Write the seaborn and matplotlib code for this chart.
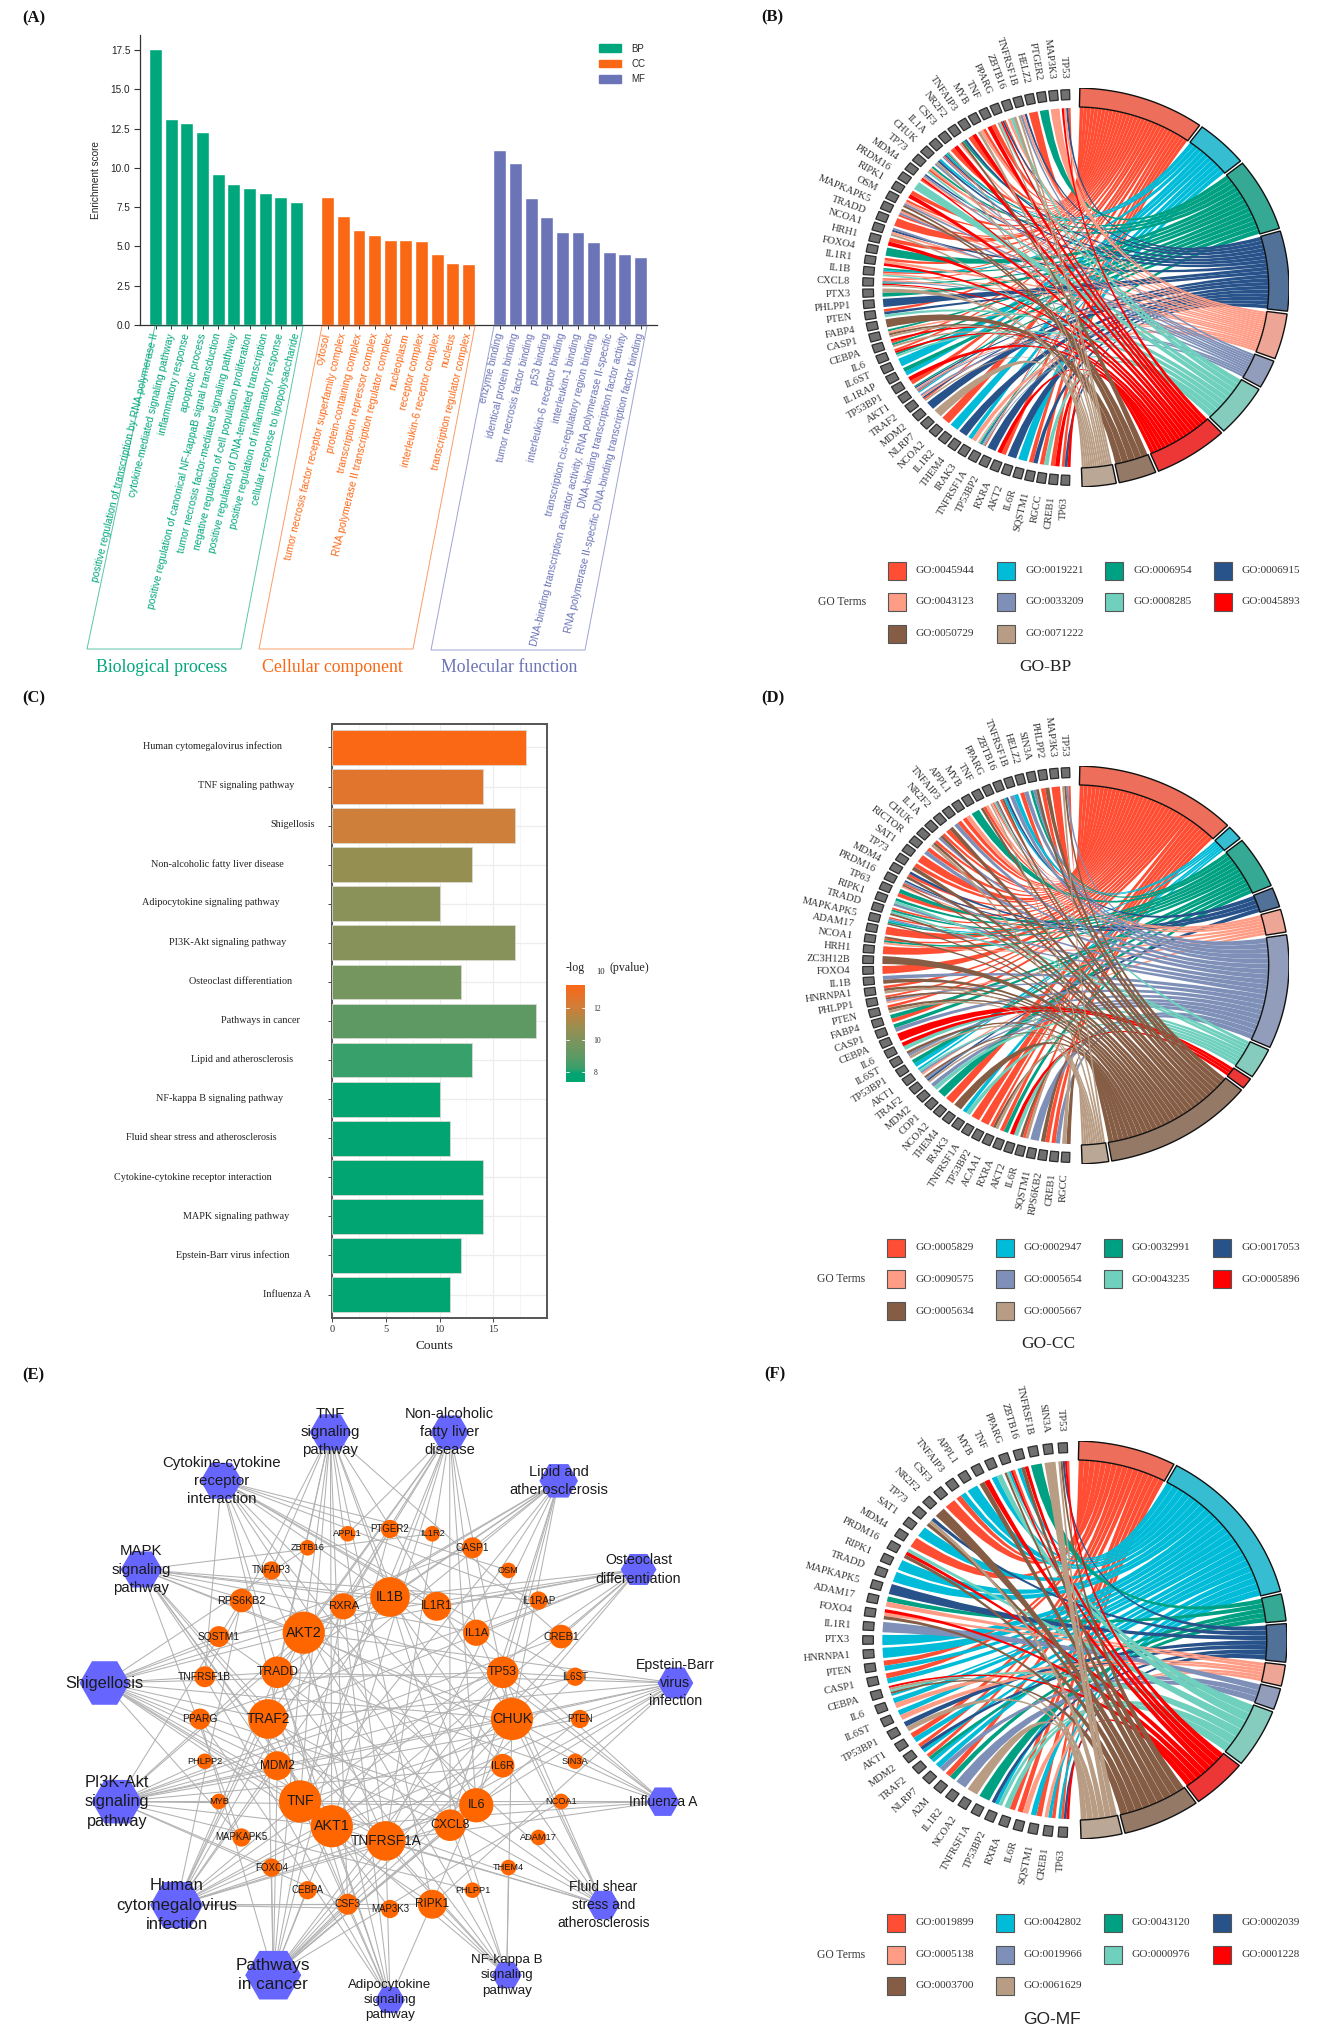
import numpy as np
import pandas as pd
import matplotlib
matplotlib.use("Agg")
import matplotlib.pyplot as plt
import seaborn as sns
from matplotlib.path import Path
from matplotlib.patches import PathPatch, Polygon, Rectangle, Patch
from matplotlib.colors import LinearSegmentedColormap, Normalize, to_rgb
from matplotlib.cm import ScalarMappable

W, H = 1323, 2036
SERIF = "Liberation Serif"
SANS = "Liberation Sans"

# ---------- Panel A data ----------
bp_terms = ["positive regulation of transcription by RNA polymerase II", "cytokine-mediated signaling pathway",
            "inflammatory response", "apoptotic process",
            "positive regulation of canonical NF-kappaB signal transduction",
            "tumor necrosis factor-mediated signaling pathway", "negative regulation of cell population proliferation",
            "positive regulation of DNA-templated transcription", "positive regulation of inflammatory response",
            "cellular response to lipopolysaccharide"]
bp_scores = [17.6, 13.1, 12.85, 12.3, 9.6, 9.0, 8.7, 8.4, 8.15, 7.85]
cc_terms = ["cytosol", "tumor necrosis factor receptor superfamily complex", "protein-containing complex",
            "transcription repressor complex", "RNA polymerase II transcription regulator complex", "nucleoplasm",
            "receptor complex", "interleukin-6 receptor complex", "nucleus", "transcription regulator complex"]
cc_scores = [8.15, 6.95, 6.05, 5.75, 5.42, 5.4, 5.35, 4.55, 3.95, 3.9]
mf_terms = ["enzyme binding", "identical protein binding", "tumor necrosis factor binding", "p53 binding",
            "interleukin-6 receptor binding", "interleukin-1 binding", "transcription cis-regulatory region binding",
            "DNA-binding transcription activator activity, RNA polymerase II-specific",
            "DNA-binding transcription factor activity",
            "RNA polymerase II-specific DNA-binding transcription factor binding"]
mf_scores = [11.15, 10.3, 8.1, 6.85, 5.9, 5.9, 5.3, 4.65, 4.5, 4.3]

# ---------- Panel C data ----------
kegg_paths = ["Human cytomegalovirus infection", "TNF signaling pathway", "Shigellosis",
              "Non-alcoholic fatty liver disease", "Adipocytokine signaling pathway", "PI3K-Akt signaling pathway",
              "Osteoclast differentiation", "Pathways in cancer", "Lipid and atherosclerosis",
              "NF-kappa B signaling pathway", "Fluid shear stress and atherosclerosis",
              "Cytokine-cytokine receptor interaction", "MAPK signaling pathway", "Epstein-Barr virus infection",
              "Influenza A"]
kegg_counts = [18, 14, 17, 13, 10, 17, 12, 19, 13, 10, 11, 14, 14, 12, 11]
kegg_logp = [13.45, 12.6, 12.0, 10.7, 10.3, 10.2, 9.7, 9.0, 8.2, 7.9, 7.7, 7.6, 7.55, 7.5, 7.4]

# ---------- Chord data: one letter per GO term (a..j) for each gene ----------
bp_go = ["GO:0045944", "GO:0019221", "GO:0006954", "GO:0006915", "GO:0043123", "GO:0033209", "GO:0008285",
         "GO:0045893", "GO:0050729", "GO:0071222"]
bp_span = [35, 15, 22, 24, 14, 9, 16, 21, 11, 10]
bp_genes = ["TP53", "MAP3K3", "PTGER2", "HELZ2", "TNFRSF1B", "ZBTB16", "PPARG", "TNF", "MYB", "TNFAIP3", "NR2F2", "CSF3",
            "IL1A", "CHUK", "TP73", "MDM4", "PRDM16", "RIPK1", "OSM", "MAPKAPK5", "TRADD", "NCOA1", "HRH1", "FOXO4",
            "IL1R1", "IL1B", "CXCL8", "PTX3", "PHLPP1", "PTEN", "FABP4", "CASP1", "CEBPA", "IL6", "IL6ST", "IL1RAP",
            "TP53BP1", "AKT1", "TRAF2", "MDM2", "NLRP7", "NCOA2", "IL1R2", "THEM4", "IRAK3", "TNFRSF1A", "TP53BP2",
            "RXRA", "AKT2", "IL6R", "SQSTM1", "RGCC", "CREB1", "TP63"]
bp_links = ["adeh", "e", "c", "a", "defj", "jge", "adhgj", "ah", "aej", "ha", "dcie", "ha", "jcbdaf", "bdjf", "ceag",
            "dfeha", "g", "ah", "aefi", "iefa", "a", "fdej", "ah", "c", "aeh", "cbaeg", "aefchj", "jc", "d", "adg",
            "i", "ceij", "hacj", "ahcg", "b", "cb", "ha", "cdefab", "fedaj", "d", "j", "a", "b", "d", "be",
            "egcdbjfa", "d", "ha", "d", "b", "ad", "ag", "ah", "adh"]

cc_go = ["GO:0005829", "GO:0002947", "GO:0032991", "GO:0017053", "GO:0090575", "GO:0005654", "GO:0043235",
         "GO:0005896", "GO:0005634", "GO:0005667"]
cc_span = [45, 5, 16, 6.5, 7.5, 34, 9.7, 4, 42, 8]
cc_genes = ["TP53", "MAP3K3", "PHLPP2", "SIN3A", "HELZ2", "TNFRSF1B", "ZBTB16", "PPARG", "TNF", "MYB", "APPL1",
            "TNFAIP3", "NR2F2", "IL1A", "CHUK", "RICTOR", "SAT1", "TP73", "MDM4", "PRDM16", "TP63", "RIPK1", "TRADD",
            "MAPKAPK5", "ADAM17", "NCOA1", "HRH1", "ZC3H12B", "FOXO4", "IL1B", "HNRNPA1", "PHLPP1", "PTEN", "FABP4",
            "CASP1", "CEBPA", "IL6", "IL6ST", "TP53BP1", "AKT1", "TRAF2", "MDM2", "COP1", "NCOA2", "THEM4", "IRAK3",
            "TNFRSF1A", "TP53BP2", "ACAA1", "RXRA", "AKT2", "IL6R", "SQSTM1", "RPS6KB2", "CREB1", "RGCC"]
cc_links = ["afij", "a", "ia", "ifc", "fa", "bf", "dbia", "ifgaej", "eai", "c", "ea", "af", "ia", "aif", "aij", "af",
            "a", "ai", "dai", "dfaie", "ca", "cgf", "acgi", "afbci", "a", "iace", "a", "i", "a", "fi", "aij", "aife",
            "aij", "ca", "cf", "h", "hg", "ifj", "cb", "bgfe", "ifdj", "fg", "c", "a", "i", "bg", "a", "a", "aij",
            "ac", "hg", "iaj", "f", "ia", "af", "ji"]

mf_go = ["GO:0019899", "GO:0042802", "GO:0043120", "GO:0002039", "GO:0005138", "GO:0019966", "GO:0000976",
         "GO:0001228", "GO:0003700", "GO:0061629"]
mf_span = [27.6, 48, 8.7, 12, 7, 7, 18, 16, 22, 12]
mf_genes = ["TP53", "SIN3A", "TNFRSF1B", "ZBTB16", "PPARG", "TNF", "MYB", "APPL1", "TNFAIP3", "CSF3", "NR2F2", "TP73",
            "SAT1", "MDM4", "PRDM16", "RIPK1", "TRADD", "MAPKAPK5", "ADAM17", "FOXO4", "IL1R1", "PTX3", "HNRNPA1",
            "PTEN", "CASP1", "CEBPA", "IL6", "IL6ST", "TP53BP1", "AKT1", "MDM2", "TRAF2", "NLRP7", "A2M", "IL1R2",
            "NCOA2", "TNFRSF1A", "TP53BP2", "RXRA", "IL6R", "SQSTM1", "CREB1", "TP63"]
mf_links = ["ahdij", "j", "c", "hib", "ahbgi", "gb", "hi", "b", "ba", "a", "i", "dji", "b", "a", "ghi", "b", "b", "d",
            "ce", "hei", "f", "b", "b", "ab", "ab", "hjgib", "be", "be", "dj", "ab", "adb", "acb", "bf", "ac", "f", "j",
            "c", "dbg", "ga", "ae", "ba", "eba", "badh"]

# ---------- Panel E data ----------
outer_genes = ["PTGER2", "IL1R2", "CASP1", "OSM", "IL1RAP", "CREB1", "IL6ST", "PTEN", "SIN3A", "NCOA1", "ADAM17", "THEM4",
               "PHLPP1", "RIPK1", "MAP3K3", "CSF3", "CEBPA", "FOXO4", "MAPKAPK5", "MYB", "PHLPP2", "PPARG", "TNFRSF1B",
               "SQSTM1", "RPS6KB2", "TNFAIP3", "ZBTB16", "APPL1"]
outer_degree = [2, 1, 3, 1, 2, 4, 2, 2, 1, 1, 1, 1, 1, 6, 2, 3, 2, 2, 2, 1, 1, 3, 3, 3, 4, 2, 1, 1]
inner_genes = ["IL1B", "IL1R1", "IL1A", "TP53", "CHUK", "IL6R", "IL6", "CXCL8", "TNFRSF1A", "AKT1", "TNF", "MDM2", "TRAF2",
               "TRADD", "AKT2", "RXRA"]
inner_degree = [10, 6, 5, 7, 11, 4, 8, 7, 10, 11, 11, 6, 10, 7, 11, 5]
net_paths = ["Non-alcoholic\nfatty liver\ndisease", "Lipid and\natherosclerosis", "Osteoclast\ndifferentiation",
             "Epstein-Barr\nvirus\ninfection", "Influenza A", "Fluid shear\nstress and\natherosclerosis",
             "NF-kappa B\nsignaling\npathway", "Adipocytokine\nsignaling\npathway", "Pathways\nin cancer",
             "Human\ncytomegalovirus\ninfection", "PI3K-Akt\nsignaling\npathway", "Shigellosis",
             "MAPK\nsignaling\npathway", "Cytokine-cytokine\nreceptor\ninteraction", "TNF\nsignaling\npathway"]
net_counts = [13, 13, 12, 12, 11, 11, 10, 10, 19, 18, 17, 17, 14, 14, 14]
net_members = [
    "TNF TNFRSF1A TRAF2 TRADD CHUK AKT1 AKT2 IL1B IL1A IL6 CXCL8 RXRA APPL1",
    "TNF TNFRSF1A TRAF2 TRADD CHUK AKT1 AKT2 TP53 IL1B IL6 CXCL8 RXRA CASP1",
    "TNF TNFRSF1A TRAF2 CHUK AKT1 AKT2 IL1A IL1B IL1R1 PPARG CREB1 SQSTM1",
    "TNF TNFRSF1A TRAF2 TRADD CHUK AKT1 AKT2 TP53 MDM2 IL6 RIPK1 SIN3A",
    "TNF TNFRSF1A TRADD CHUK AKT1 AKT2 IL1A IL1B IL6 NCOA1 TP53",
    "TNF TNFRSF1A TRAF2 CHUK AKT1 AKT2 TP53 ADAM17 IL1A IL1B SQSTM1",
    "TNF TNFRSF1A TRAF2 TRADD CHUK IL1B THEM4 CXCL8 RIPK1 TNFAIP3",
    "TNF TNFRSF1A TNFRSF1B TRAF2 TRADD CHUK AKT1 AKT2 RXRA PPARG",
    "AKT1 AKT2 TP53 MDM2 IL6 IL6R IL6ST CXCL8 CHUK TRAF2 RXRA PPARG PTEN FOXO4 CEBPA NCOA1 CSF3 PTGER2 TNFRSF1A",
    "TNF TNFRSF1A TRAF2 TRADD CHUK AKT1 AKT2 TP53 MDM2 IL1B IL6 IL6R RPS6KB2 CXCL8 RIPK1 PTGER2 MAP3K3 CSF3",
    "AKT1 AKT2 TP53 MDM2 IL6 IL6R IL6ST CHUK PTEN CREB1 PHLPP1 PHLPP2 RXRA FOXO4 CSF3 MYB RPS6KB2",
    "TNF TNFRSF1A TRAF2 TRADD CHUK AKT1 AKT2 TP53 MDM2 IL1B CXCL8 IL6 RIPK1 CASP1 MAPKAPK5 SQSTM1 ZBTB16",
    "TNF TNFRSF1A TRAF2 CHUK AKT1 AKT2 IL1A IL1B IL1R1 IL1R2 IL1RAP TP53 MAP3K3 MAPKAPK5",
    "TNF TNFRSF1A TNFRSF1B IL1A IL1B IL1R1 IL1R2 IL1RAP IL6 IL6R IL6ST CXCL8 OSM CSF3",
    "TNF TNFRSF1A TNFRSF1B TRAF2 TRADD CHUK AKT1 AKT2 IL1B IL6 RIPK1 CREB1 TNFAIP3 CSF3",
]

# ---------- Style ----------
GO_COLORS = ["#FF4E33", "#00BCD8", "#00A083", "#27528A", "#FF9C85", "#7F90B8", "#6FD0BE", "#FF0000", "#855D45", "#B89D84"]
GREEN, ORANGE, PURPLE = "#00A77C", "#FA6816", "#6A74B6"

sns.set_theme(style="white")
plt.rcParams["font.family"] = [SANS, "DejaVu Sans"]

fig = plt.figure(figsize=(W / 100, H / 100), dpi=100, facecolor="white")


def axpx(l, t, r, b, **kw):
    return fig.add_axes([l / W, 1 - b / H, (r - l) / W, (b - t) / H], **kw)


ov = axpx(0, 0, W, H, zorder=20)
ov.set_xlim(0, W)
ov.set_ylim(H, 0)
ov.axis("off")
ov.patch.set_alpha(0)

for lab, x, y in [("(A)", 22, 18), ("(B)", 761, 17), ("(C)", 22, 698), ("(D)", 761, 698), ("(E)", 22, 1375), ("(F)", 764, 1374)]:
    ov.text(x, y, lab, family=SERIF, weight="bold", fontsize=12, ha="left", va="center", color="#111")

# ---------- Panel A ----------
ax = axpx(140, 35, 657, 325)
groups = [("BP", bp_terms, bp_scores, GREEN), ("CC", cc_terms, cc_scores, ORANGE), ("MF", mf_terms, mf_scores, PURPLE)]
rows = []
for g, ts, vs, _ in groups:
    rows += [dict(term=t, score=v, group=g) for t, v in zip(ts, vs)]
dfa = pd.DataFrame(rows)
slots = bp_terms + [""] + cc_terms + [" "] + mf_terms
sns.barplot(data=dfa, x="term", y="score", hue="group", order=slots, dodge=False, width=0.83,
            palette={g: c for g, _, _, c in groups}, legend=False, ax=ax, saturation=1)
ax.set_xlim(-1, 32.05)
ax.set_ylim(0, 18.46)
ax.set_yticks(np.arange(0, 18, 2.5))
ax.tick_params(axis="y", labelsize=7.2, length=4, width=0.8, color="#333", labelcolor="#222", pad=3, left=True)
tick_pos = [i for i, s in enumerate(slots) if s.strip()]
ax.set_xticks(tick_pos)
ax.set_xticklabels([slots[i] for i in tick_pos], rotation=76.4, ha="right", va="center", rotation_mode="anchor", fontsize=7.4)
ax.tick_params(axis="x", length=3, width=0.7, color="#333", pad=3, bottom=True)
colmap = {t: c for _, ts, _, c in groups for t in ts}
for lb in ax.get_xticklabels():
    lb.set_color(colmap[lb.get_text()])
ax.set_xlabel("")
ax.set_ylabel("Enrichment score", fontsize=7.2, color="#222", labelpad=7)
sns.despine(ax=ax)
for s in ("left", "bottom"):
    ax.spines[s].set_color("#333")
    ax.spines[s].set_linewidth(0.9)
ax.legend(handles=[Patch(color=c, label=g) for g, _, _, c in groups], frameon=False, fontsize=7,
          handlelength=2.3, handleheight=0.8, labelspacing=0.55, handletextpad=1.0, borderpad=0, borderaxespad=0,
          loc="upper left", bbox_to_anchor=(599 / W, 1 - 43.5 / H), bbox_transform=fig.transFigure)
for (x0, x1, y0, x2, x3, y1, c, name, tx) in [
    (87, 241, 649, 303, 155, 326, GREEN, "Biological process", 162),
    (259, 413, 649, 475, 322, 326, ORANGE, "Cellular component", 332),
    (431, 585, 650, 647, 494, 326, PURPLE, "Molecular function", 509),
]:
    ov.add_patch(Polygon([(x0, y0), (x1, y0), (x2, y1), (x3, y1)], closed=True, fill=False, ec=c, lw=0.7, alpha=0.65))
    ov.text(tx, 668, name, family=SERIF, fontsize=12.8, color=c, ha="center", va="center")

# ---------- Panel C ----------
ax = axpx(332, 724, 547, 1318)
stops = [(0.0, "#00A572"), (0.09, "#03A470"), (0.138, "#38A06B"), (0.27, "#5F9963"), (0.384, "#76965F"),
         (0.483, "#8A9159"), (0.548, "#968F52"), (0.762, "#CD7F39"), (0.86, "#E0752E"), (1.0, "#FA6816")]
cmap = LinearSegmentedColormap.from_list("gy", stops)
norm = Normalize(7.36, 13.45)
dfc = pd.DataFrame(dict(path=kegg_paths, count=kegg_counts, logp=kegg_logp))
sns.barplot(data=dfc, y="path", x="count", hue="path", palette={p: cmap(norm(v)) for p, v in zip(kegg_paths, kegg_logp)},
            legend=False, width=0.89, edgecolor="#d9d9d0", linewidth=0.6, saturation=1, ax=ax, zorder=3)
ax.set_xlim(0, 20)
ax.set_ylim(14.6, -0.6)
ax.set_xticks([0, 5, 10, 15])
ax.set_xticks([2.5, 7.5, 12.5, 17.5], minor=True)
ax.grid(True, which="major", color="#EDEDED", lw=0.9)
ax.grid(True, which="minor", axis="x", color="#F4F4F4", lw=0.6)
ax.set_axisbelow(True)
ax.tick_params(axis="x", which="major", length=3, width=0.7, color="#444", labelsize=7.5, labelcolor="#333", pad=2, bottom=True)
ax.tick_params(axis="x", which="minor", length=0)
ax.tick_params(axis="y", length=3, width=0.7, color="#444", left=True, labelleft=False)
for s in ax.spines.values():
    s.set_color("#555")
    s.set_linewidth(1.4)
for lb in ax.get_xticklabels():
    lb.set_family(SERIF)
ax.set_ylabel("")
ax.set_xlabel("")
label_end_gap = [50, 38, 17, 48, 52, 46, 40, 32, 39, 49, 55, 60, 43, 43, 21]
for i, (p, g) in enumerate(zip(kegg_paths, label_end_gap)):
    ov.annotate(p, xy=(332 - g, 746.3 + i * 39.16), family=SERIF, fontsize=7.3, color="#222", ha="right", va="center")
ov.text(434.5, 1346, "Counts", family=SERIF, fontsize=9.6, color="#222", ha="center", va="center")
cax = axpx(566, 985, 585, 1082)
cb = fig.colorbar(ScalarMappable(norm=norm, cmap=cmap), cax=cax)
cb.outline.set_visible(False)
cb.set_ticks([8, 10, 12])
cax.tick_params(length=0, labelsize=5.5, pad=6, labelcolor="#333")
for lb in cax.get_yticklabels():
    lb.set_family(SERIF)
for v in (8, 10, 12):
    cax.plot([0, 0.18], [v, v], color="white", lw=0.6, transform=cax.get_yaxis_transform())
    cax.plot([0.82, 1], [v, v], color="white", lw=0.6, transform=cax.get_yaxis_transform())
ov.text(566, 968, "-log", family=SERIF, fontsize=8.6, color="#222", ha="left", va="center")
ov.text(596, 972, "10", family=SERIF, fontsize=6.2, color="#222", ha="left", va="center")
ov.text(610, 968, "(pvalue)", family=SERIF, fontsize=8.6, color="#222", ha="left", va="center")


# ---------- Chord panels ----------
def pol(theta, r):
    t = np.deg2rad(theta)
    return np.column_stack([r * np.sin(t), r * np.cos(t)])


def ring_seg(ax, a0, a1, r0, r1, **kw):
    th = np.linspace(a0, a1, max(int(abs(a1 - a0)) + 2, 4))
    pts = np.vstack([pol(th, r1), pol(th[::-1], r0)])
    ax.add_patch(Polygon(pts, closed=True, **kw))


def chord(cx, cy, rx, ry, go, span, genes, links, leg_x, leg_y, title, title_xy, title_fam):
    ax = axpx(cx - rx, cy - ry, cx + rx, cy + ry)
    ax.set_xlim(-1, 1)
    ax.set_ylim(-1, 1)
    ax.axis("off")
    scale = 177.6 / sum(span)
    edges = np.concatenate([[0.9], 0.9 + np.cumsum(span) * scale])
    letters = "abcdefghij"
    n = len(genes)
    assert n == len(links), (title, n, len(links))
    step = 178.0 / n
    rT, rG = 0.905, 0.90
    users = {l: [i for i, s in enumerate(links) if l in s] for l in letters}
    ribbons = []
    for k, l in enumerate(letters):
        a0, a1 = edges[k] + 0.5, edges[k + 1] - 0.5
        m = max(len(users[l]), 1)
        w = (a1 - a0) / m
        for q, g in enumerate(users[l]):
            ribbons.append((k, g, a0 + q * w + 0.01 * w, a0 + (q + 1) * w - 0.01 * w))
    for k, g, a, b in ribbons:
        s = links[g]
        top = 360.0 - 1.0 - g * step
        pad = step * 0.1
        w = (step - 2 * pad) / len(s)
        pos = s.index(letters[k])
        g_hi = top - pad - pos * w
        g_lo = g_hi - w
        ta = np.linspace(a, b, 6)
        ga = np.linspace(g_lo, g_hi, 4)
        tpts = pol(ta, rT)
        gpts = pol(ga, rG)
        verts = [tpts[0]] + list(tpts[1:]) + [(0, 0), gpts[0]] + list(gpts[1:]) + [(0, 0), tpts[0], tpts[0]]
        codes = ([Path.MOVETO] + [Path.LINETO] * (len(tpts) - 1) + [Path.CURVE3, Path.CURVE3]
                 + [Path.LINETO] * (len(gpts) - 1) + [Path.CURVE3, Path.CURVE3, Path.CLOSEPOLY])
        ax.add_patch(PathPatch(Path(np.array(verts, float), codes), fc=GO_COLORS[k], ec="none", lw=0, zorder=2 + k * 0.1))
    for k in range(len(go)):
        c = np.array(to_rgb(GO_COLORS[k])) * 0.72 + 0.28 * 0.75
        ring_seg(ax, edges[k] + 0.4, edges[k + 1] - 0.4, 0.905, 1.0, fc=c, ec="#111", lw=1.0, zorder=5)
    for i, name in enumerate(genes):
        mid = 360.0 - 1.0 - (i + 0.5) * step
        hw = min(step * 0.36, 1.25)
        ring_seg(ax, mid - hw, mid + hw, 0.942, 0.992, fc="#707070", ec="#2c2c2c", lw=0.9, zorder=5)
        p = pol(np.array([mid]), 1.05)[0]
        t = np.deg2rad(mid)
        rot = np.degrees(np.arctan2(np.cos(t) * ry, np.sin(t) * rx)) + 180
        ax.text(p[0], p[1], name, family=SERIF, fontsize=7.6, color="#333", rotation=rot, rotation_mode="anchor",
                ha="right", va="center", clip_on=False)
    for i, g in enumerate(go):
        col, row = i % 4, i // 4
        x = leg_x[col]
        y = leg_y[row]
        ov.add_patch(Rectangle((x, y - 9), 18, 18, fc=GO_COLORS[i], ec="#555", lw=0.8))
        ov.text(x + 28, y, g, family=SERIF, fontsize=8.1, color="#333", ha="left", va="center")
    ov.text(leg_x[0] - 70, leg_y[1], "GO Terms", family=SERIF, fontsize=8.3, color="#333", ha="left", va="center")
    ov.text(title_xy[0], title_xy[1], title, family=title_fam, fontsize=12.5, color="#222", ha="center", va="center")


LEGX = [888, 997, 1105, 1214]
chord(1075, 287.5, 214, 199.5, bp_go, bp_span, bp_genes, bp_links, LEGX, [570.5, 602, 634], "GO-BP", (1045, 667), SERIF)
chord(1075, 965, 214, 199, cc_go, cc_span, cc_genes, cc_links, [887, 996, 1104, 1213], [1247.7, 1279, 1311], "GO-CC", (1048, 1344), SERIF)
chord(1074, 1640, 213, 199, mf_go, mf_span, mf_genes, mf_links, [887, 996, 1104, 1213], [1922.6, 1954.5, 1986], "GO-MF", (1052, 2019), SANS)

# ---------- Panel E ----------
CX, CY = 390, 1719
net = axpx(0, 1350, 720, 2036, zorder=3)
net.set_xlim(0, 720)
net.set_ylim(2036, 1350)
net.axis("off")
net.patch.set_alpha(0)


def ring(n, R, start, cx=CX, cy=CY, nudge=None):
    th = start + np.arange(n) * 360.0 / n
    if nudge is not None:
        th = th + np.asarray(nudge)
    th = np.deg2rad(th)
    return cx + R * np.sin(th), cy - R * np.cos(th)


# small layout offsets (degrees) of the hand-moved central nodes
inner_nudge = [0, 0, 0, 0, 0, 0, 0, -7, 2, 6, 2.5, 0, 0, 0, 0, 0]
ox, oy = ring(len(outer_genes), 190, 0)
ix, iy = ring(len(inner_genes), 122, 0, nudge=inner_nudge)
px, py = ring(len(net_paths), 287, 12, CX, 1713)
pos = {g: (x, y) for g, x, y in zip(outer_genes + inner_genes, np.r_[ox, ix], np.r_[oy, iy])}
for i, mem in enumerate(net_members):
    for g in mem.split():
        x, y = pos[g]
        net.plot([px[i], x], [py[i], y], color="#B2B2B2", lw=0.75, zorder=1, solid_capstyle="round")

deg = np.array(outer_degree + inner_degree)
r_px = (17 + 2.9 * (deg - 1)) / 2.178
dfg = pd.DataFrame(dict(x=np.r_[ox, ix], y=np.r_[oy, iy], s=(2 * r_px * 0.72) ** 2, gene=outer_genes + inner_genes, deg=deg))
sns.scatterplot(data=dfg, x="x", y="y", size="s", sizes={v: v for v in dfg.s.unique()}, color="#FF6600", linewidth=0,
                legend=False, ax=net, zorder=3)
dfp = pd.DataFrame(dict(x=px, y=py, n=net_counts))
dfp["s"] = ((30 + (dfp.n - 10) * 2.9) * 0.72 * 1.0) ** 2
sns.scatterplot(data=dfp, x="x", y="y", size="s", sizes={v: v for v in dfp.s.unique()}, color="#6666FF", linewidth=0,
                marker="H", legend=False, ax=net, zorder=3)
net.set_xlim(0, 720)
net.set_ylim(2036, 1350)
net.set_xlabel("")
net.set_ylabel("")
for _, r in dfg.iterrows():
    net.text(r.x, r.y, r.gene, fontsize=6.3 + 0.36 * r.deg, color="#1a1a1a", ha="center", va="center", zorder=4)
for t, x, y, c in zip(net_paths, px, py, net_counts):
    net.text(x, y, t, fontsize=9.6 + (c - 10) * 0.3, color="#1a1a1a", ha="center", va="center", zorder=4, linespacing=1.38)

fig.savefig("out.png", dpi=100, facecolor="white")
